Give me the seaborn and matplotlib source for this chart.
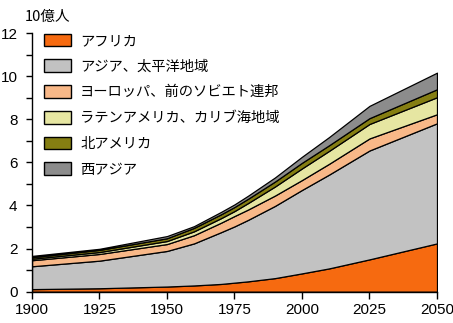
import matplotlib
matplotlib.use("Agg")
import matplotlib.pyplot as plt
import seaborn as sns
import numpy as np
from matplotlib.patches import Patch
from matplotlib.ticker import MultipleLocator

years = [1900, 1925, 1950, 1960, 1970, 1975, 1980, 1990, 2000, 2010, 2025, 2050]
africa        = [0.12, 0.16, 0.24, 0.29, 0.36, 0.42, 0.48, 0.63, 0.85, 1.08, 1.50, 2.24]
asia_pacific  = [1.06, 1.28, 1.65, 1.95, 2.40, 2.61, 2.85, 3.35, 3.87, 4.35, 5.05, 5.57]
europe_ussr   = [0.28, 0.31, 0.32, 0.38, 0.44, 0.48, 0.48, 0.48, 0.46, 0.50, 0.56, 0.42]
latin_america = [0.07, 0.09, 0.14, 0.18, 0.21, 0.23, 0.30, 0.42, 0.54, 0.60, 0.67, 0.79]
north_america = [0.07, 0.10, 0.13, 0.16, 0.18, 0.19, 0.20, 0.23, 0.26, 0.26, 0.27, 0.37]
west_asia     = [0.06, 0.05, 0.10, 0.08, 0.11, 0.12, 0.14, 0.19, 0.28, 0.38, 0.57, 0.77]

labels = ["アフリカ", "アジア、太平洋地域", "ヨーロッパ、前のソビエト連邦",
          "ラテンアメリカ、カリブ海地域", "北アメリカ", "西アジア"]
colors = ["#F66A10", "#C2C2C2", "#F8B888", "#E6E6A2", "#857E12", "#8C8C8C"]
x_ticks = [1900, 1925, 1950, 1975, 2000, 2025, 2050]
y_ticks = [0, 2, 4, 6, 8, 10, 12]

sns.set_theme(style="ticks")
plt.rcParams["font.family"] = ["Noto Sans CJK JP", "DejaVu Sans"]

fig = plt.figure(figsize=(4.53, 3.23), dpi=100)
ax = fig.add_axes([32/453, 1 - 291.7/323, (437 - 32)/453, (291.7 - 33)/323])

series = [africa, asia_pacific, europe_ussr, latin_america, north_america, west_asia]
ax.stackplot(years, *series, colors=colors, edgecolor="black", linewidth=0.9)

ax.set_xlim(1900, 2050)
ax.set_ylim(0, 12)
ax.set_xticks(x_ticks)
ax.set_yticks(y_ticks)
ax.yaxis.set_minor_locator(MultipleLocator(1))
sns.despine(ax=ax)
for s in ["left", "bottom"]:
    ax.spines[s].set_color("black")
    ax.spines[s].set_linewidth(1.0)
ax.tick_params(axis="y", which="major", length=4.5, width=1, color="black",
               pad=6, labelsize=11, labelcolor="black")
ax.tick_params(axis="y", which="minor", length=4.5, width=1, color="black")
ax.tick_params(axis="x", which="major", length=5, width=1, color="black",
               pad=3, labelsize=11, labelcolor="black")
for lab in ax.get_xticklabels() + ax.get_yticklabels():
    lab.set_family(["Liberation Sans", "DejaVu Sans"])
ax.grid(False)
ax.set_facecolor("white")

fig.text(25/453, 1 - 16.7/323, "10億人", fontsize=10.5, va="center", ha="left",
         color="black")

handles = [Patch(facecolor=c, edgecolor="black", linewidth=1.0) for c in colors]
leg = ax.legend(handles, labels, loc="upper left", bbox_to_anchor=(0.015, 1.02),
                frameon=False, fontsize=10.3, handlelength=1.9, handleheight=1.0,
                handletextpad=0.65, labelspacing=0.8, borderaxespad=0)
for t in leg.get_texts():
    t.set_color("black")

fig.savefig("out.png", dpi=100, facecolor="white")
